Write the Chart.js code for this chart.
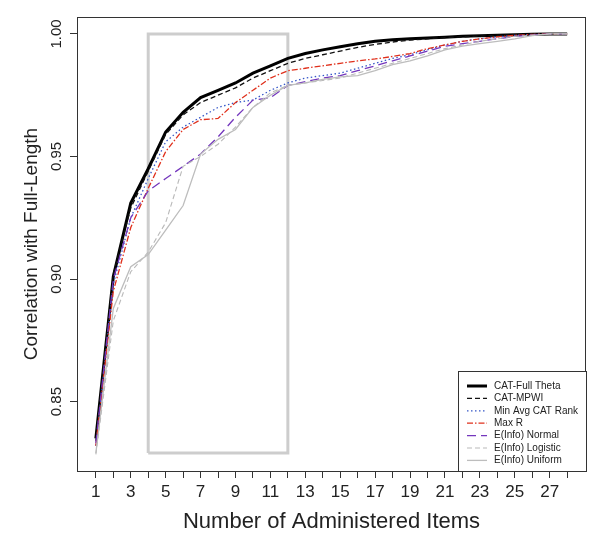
<!DOCTYPE html>
<html>
<head>
<meta charset="utf-8">
<script src="https://cdn.jsdelivr.net/npm/chart.js@4"></script>
<style>
  body { margin: 0; background: #fff; }
  canvas { display: block; }
</style>
</head>
<body>
<canvas id="grafico" width="600" height="544"></canvas>
<script>
// data
const items = [1, 2, 3, 4, 5, 6, 7, 8, 9, 10, 11, 12, 13, 14, 15, 16, 17, 18, 19, 20, 21, 22, 23, 24, 25, 26, 27, 28];
const yTicks = [0.85, 0.90, 0.95, 1.00];

const fullTheta = [0.835, 0.901, 0.931, 0.945, 0.960, 0.968, 0.974, 0.977, 0.980, 0.984, 0.987, 0.990, 0.992, 0.9935, 0.9948, 0.996, 0.997, 0.9976, 0.998, 0.9983, 0.9986, 0.999, 0.9993, 0.9995, 0.9997, 0.9999, 1.0, 1.0];
const mpwi = [0.834, 0.902, 0.929, 0.944, 0.959, 0.967, 0.972, 0.975, 0.978, 0.982, 0.985, 0.988, 0.990, 0.9915, 0.993, 0.9945, 0.9957, 0.9967, 0.9975, 0.998, 0.9985, 0.9988, 0.9991, 0.9994, 0.9996, 0.9998, 1.0, 1.0];
const minAvgRank = [0.832, 0.898, 0.925, 0.941, 0.956, 0.962, 0.966, 0.970, 0.972, 0.973, 0.977, 0.980, 0.982, 0.983, 0.984, 0.986, 0.988, 0.990, 0.9915, 0.9935, 0.9955, 0.997, 0.998, 0.9988, 0.9994, 0.9998, 1.0, 1.0];
const maxR = [0.832, 0.895, 0.921, 0.937, 0.952, 0.961, 0.965, 0.9655, 0.972, 0.977, 0.982, 0.985, 0.986, 0.987, 0.988, 0.989, 0.9898, 0.9908, 0.992, 0.994, 0.9955, 0.997, 0.998, 0.9988, 0.9994, 0.9998, 1.0, 1.0];
const infoNormal = [0.833, 0.900, 0.925, 0.936, 0.941, 0.946, 0.951, 0.958, 0.966, 0.973, 0.974, 0.979, 0.9805, 0.982, 0.983, 0.985, 0.987, 0.989, 0.991, 0.993, 0.995, 0.996, 0.997, 0.998, 0.999, 0.9995, 1.0, 1.0];
const infoLogistic = [0.8285, 0.883, 0.903, 0.911, 0.923, 0.946, 0.950, 0.955, 0.962, 0.970, 0.976, 0.979, 0.980, 0.981, 0.982, 0.984, 0.986, 0.988, 0.990, 0.992, 0.994, 0.9955, 0.997, 0.998, 0.999, 0.9995, 1.0, 1.0];
const infoUniform = [0.829, 0.888, 0.905, 0.910, 0.920, 0.930, 0.951, 0.957, 0.961, 0.970, 0.975, 0.979, 0.980, 0.9815, 0.9825, 0.983, 0.985, 0.9875, 0.989, 0.991, 0.9935, 0.995, 0.996, 0.997, 0.998, 0.9993, 1.0, 1.0];

// highlighted region (items 4 to 12)
const boxX = [4, 12];
const boxY = [0.829, 1.0];

const fonte = "'Liberation Sans', Arial, Helvetica, sans-serif";

function pontos(valores) {
  return items.map((x, i) => ({ x: x, y: valores[i] }));
}

function serie(label, valores, cor, largura, traco, ordem) {
  return {
    label: label,
    data: pontos(valores),
    borderColor: cor,
    borderWidth: largura,
    borderDash: traco,
    pointRadius: 0,
    tension: 0,
    fill: false,
    order: ordem,
  };
}

const datasets = [
  serie("CAT-Full Theta", fullTheta, "#000000", 3, [], 7),
  serie("CAT-MPWI", mpwi, "#111111", 1.3, [5, 3], 6),
  serie("Min Avg CAT Rank", minAvgRank, "#3557c8", 1.3, [1.5, 2.5], 5),
  serie("Max R", maxR, "#e0301c", 1.3, [6, 2, 1.5, 2], 4),
  serie("E(Info) Normal", infoNormal, "#7437bd", 1.3, [9, 5], 3),
  serie("E(Info) Logistic", infoLogistic, "#b9b9b9", 1.1, [5, 3], 2),
  serie("E(Info) Uniform", infoUniform, "#bdbdbd", 1.3, [], 1),
];

// rectangle drawn as a closed line, under everything
datasets.push({
  label: "box",
  data: [
    { x: boxX[0], y: boxY[0] },
    { x: boxX[0], y: boxY[1] },
    { x: boxX[1], y: boxY[1] },
    { x: boxX[1], y: boxY[0] },
    { x: boxX[0], y: boxY[0] },
  ],
  borderColor: "#cdcdcd",
  borderWidth: 3,
  pointRadius: 0,
  tension: 0,
  fill: false,
  order: 10,
});

// R style 4% padding on the axes
const xPad = (items[items.length - 1] - items[0]) * 0.04;

// box, y labels and legend
const extras = {
  id: "extras",
  afterDraw(chart) {
    const ctx = chart.ctx;
    const area = chart.chartArea;
    const y = chart.scales.y;

    ctx.save();
    ctx.strokeStyle = "#333";
    ctx.lineWidth = 1;
    ctx.strokeRect(area.left + 0.5, area.top + 0.5, area.right - area.left - 1, area.bottom - area.top);

    // vertical tick labels on the y axis
    ctx.fillStyle = "#222";
    ctx.font = "15px " + fonte;
    ctx.textAlign = "center";
    ctx.textBaseline = "alphabetic";
    yTicks.forEach((v) => {
      ctx.save();
      ctx.translate(area.left - 16, y.getPixelForValue(v));
      ctx.rotate(-Math.PI / 2);
      ctx.fillText(v.toFixed(2), 0, 0);
      ctx.restore();
    });

    // legend box in the bottom right corner
    const larg = 128;
    const alt = 100;
    const lx = area.right - larg;
    const ly = area.bottom - alt;
    ctx.fillStyle = "#fff";
    ctx.fillRect(lx, ly, larg, alt);
    ctx.strokeStyle = "#333";
    ctx.strokeRect(lx + 0.5, ly + 0.5, larg, alt);

    ctx.font = "10px " + fonte;
    ctx.textAlign = "left";
    ctx.textBaseline = "middle";
    datasets.slice(0, 7).forEach((ds, i) => {
      const yy = ly + 15 + i * 12.4;
      ctx.beginPath();
      ctx.strokeStyle = ds.borderColor;
      ctx.lineWidth = ds.borderWidth;
      ctx.setLineDash(ds.borderDash);
      ctx.moveTo(lx + 9, yy);
      ctx.lineTo(lx + 29, yy);
      ctx.stroke();
      ctx.setLineDash([]);
      ctx.fillStyle = "#222";
      ctx.fillText(ds.label, lx + 36, yy);
    });
    ctx.restore();
  },
};

const grafico = document.querySelector("#grafico");

const myGrafico = new Chart(grafico, {
  type: "line",
  data: { datasets: datasets },
  options: {
    responsive: false,
    animation: false,
    layout: { padding: { left: 0, right: 14, top: 17, bottom: 0 } },
    plugins: {
      legend: { display: false },
      tooltip: { enabled: false },
    },
    scales: {
      x: {
        type: "linear",
        min: items[0] - xPad,
        max: items[items.length - 1] + xPad,
        afterBuildTicks: (s) => {
          s.ticks = items.map((v) => ({ value: v }));
        },
        afterFit: (s) => {
          s.height = 73;
        },
        border: { display: false },
        grid: {
          drawOnChartArea: false,
          drawTicks: true,
          tickLength: 7,
          tickColor: "#333",
        },
        ticks: {
          autoSkip: false,
          maxRotation: 0,
          padding: 4,
          color: "#222",
          font: { family: fonte, size: 17 },
          callback: (v) => (v % 2 === 1 ? String(v) : ""),
        },
        title: {
          display: true,
          text: "Number of Administered Items",
          color: "#222",
          font: { family: fonte, size: 22 },
          padding: { top: 0, bottom: 9 },
        },
      },
      y: {
        type: "linear",
        min: 0.8217,
        max: 1.0069,
        afterBuildTicks: (s) => {
          s.ticks = yTicks.map((v) => ({ value: v }));
        },
        afterFit: (s) => {
          s.width = 77;
        },
        border: { display: false },
        grid: {
          drawOnChartArea: false,
          drawTicks: true,
          tickLength: 7,
          tickColor: "#333",
        },
        ticks: { display: false },
        title: {
          display: true,
          text: "Correlation with Full-Length",
          color: "#222",
          font: { family: fonte, size: 19 },
          padding: { top: 20, bottom: 0 },
        },
      },
    },
  },
  plugins: [extras],
});
</script>
</body>
</html>
